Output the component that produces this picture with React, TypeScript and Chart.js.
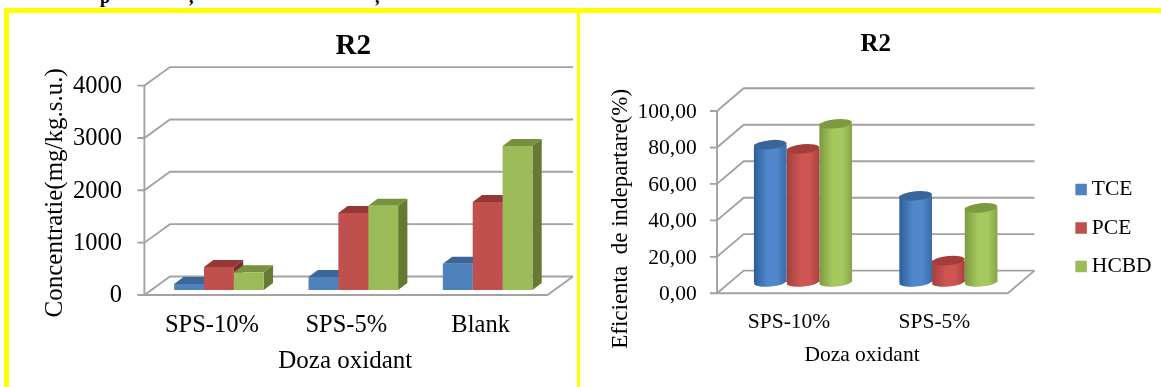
import React, { useEffect, useRef } from "react";
import { Chart, registerables } from "chart.js";

Chart.register(...registerables);

const SERIES = ["TCE", "PCE", "HCBD"];
const doseLeft = ["SPS-10%", "SPS-5%", "Blank"];
const tceConc = [115, 250, 500];
const pceConc = [440, 1470, 1680];
const hcbdConc = [340, 1610, 2750];

const doseRight = ["SPS-10%", "SPS-5%"];
const tceEff = [75.3, 47.3];
const pceEff = [73, 11.7];
const hcbdEff = [86.8, 40.7];

const FONT = "'Liberation Serif', 'Times New Roman', serif";
const GRID = "#A2A2A2";

const FRONT = ["#4F81BD", "#C0504D", "#9BBB59"];
const TOPS = ["#3B6697", "#953735", "#76923C"];
const SIDES = ["#2F5480", "#7A2E2C", "#667A33"];
const CYL_EDGE = ["#2E5E98", "#A03F3C", "#7C9A42"];
const CYL_MID = ["#5088CB", "#CF5552", "#A6C95E"];
const CYL_END = ["#3A6BA6", "#A8423F", "#86A548"];
const CYL_CAP = ["#3A6598", "#A33E3B", "#7C9A40"];

type Geo = { fx: number; fy: number; bx: number; by: number };

function wallsPlugin(g: Geo) {
  return {
    id: "walls",
    beforeDatasetsDraw(chart: any) {
      const { ctx, scales } = chart;
      const { x, y } = scales;
      const L = x.left;
      const R = x.right;
      ctx.save();
      ctx.strokeStyle = GRID;
      ctx.lineWidth = 1.9;
      const line = (pts: number[][]) => {
        ctx.beginPath();
        pts.forEach((p, i) => (i ? ctx.lineTo(p[0], p[1]) : ctx.moveTo(p[0], p[1])));
        ctx.stroke();
      };
      y.ticks.forEach((t: any) => {
        const py = y.getPixelForValue(t.value);
        line([
          [L + g.fx - 7, py + g.fy],
          [L + g.fx, py + g.fy],
          [L + g.bx, py + g.by],
          [R + g.bx, py + g.by],
        ]);
      });
      const y0 = y.getPixelForValue(y.min);
      const yT = y.getPixelForValue(y.max);
      line([
        [L + g.fx, yT + g.fy],
        [L + g.fx, y0 + g.fy],
        [R + g.fx, y0 + g.fy],
        [R + g.bx, y0 + g.by],
      ]);
      ctx.restore();
    },
  };
}

function boxPlugin(depthX: number, depthY: number) {
  return {
    id: "boxDepth",
    beforeDatasetsDraw(chart: any) {
      const { ctx } = chart;
      const n = chart.data.labels.length;
      ctx.save();
      for (let i = 0; i < n; i++) {
        for (let d = 0; d < 3; d++) {
          const el = chart.getDatasetMeta(d).data[i];
          const x0 = el.x - el.width / 2;
          const x1 = el.x + el.width / 2;
          ctx.fillStyle = TOPS[d];
          ctx.beginPath();
          ctx.moveTo(x0, el.y);
          ctx.lineTo(x1, el.y);
          ctx.lineTo(x1 + depthX, el.y - depthY);
          ctx.lineTo(x0 + depthX, el.y - depthY);
          ctx.closePath();
          ctx.fill();
          ctx.fillStyle = SIDES[d];
          ctx.beginPath();
          ctx.moveTo(x1, el.y);
          ctx.lineTo(x1 + depthX, el.y - depthY);
          ctx.lineTo(x1 + depthX, el.base - depthY);
          ctx.lineTo(x1, el.base);
          ctx.closePath();
          ctx.fill();
        }
      }
      ctx.restore();
    },
  };
}

function cylGradient(ctx: any, x0: number, x1: number, d: number) {
  const g = ctx.createLinearGradient(x0, 0, x1, 0);
  g.addColorStop(0, CYL_EDGE[d]);
  g.addColorStop(0.42, CYL_MID[d]);
  g.addColorStop(0.7, CYL_MID[d]);
  g.addColorStop(1, CYL_END[d]);
  return g;
}

const CAT_PCT = 0.675;

function cylFill(d: number) {
  return (c: any) => {
    const xs = c.chart.scales?.x;
    if (!xs || c.dataIndex === undefined || !c.chart.chartArea) return FRONT[d];
    const w = ((xs.width / c.chart.data.labels.length) * CAT_PCT) / 3;
    const cx = xs.getPixelForValue(c.dataIndex) + (d - 1) * w;
    return cylGradient(c.chart.ctx, cx - w / 2, cx + w / 2, d);
  };
}

const cylinderPlugin = {
  id: "cylinderCaps",
  afterDatasetsDraw(chart: any) {
    const { ctx } = chart;
    const n = chart.data.labels.length;
    const tilt = (-5.5 * Math.PI) / 180;
    const ry = 4.6;
    ctx.save();
    for (let i = 0; i < n; i++) {
      for (let d = 0; d < 3; d++) {
        const el = chart.getDatasetMeta(d).data[i];
        const rx = el.width / 2;
        ctx.fillStyle = cylGradient(ctx, el.x - rx, el.x + rx, d);
        ctx.beginPath();
        ctx.ellipse(el.x, el.base, rx, ry, tilt, 0, Math.PI * 2);
        ctx.fill();
        ctx.fillStyle = CYL_CAP[d];
        ctx.beginPath();
        ctx.ellipse(el.x, el.y, rx, ry, tilt, 0, Math.PI * 2);
        ctx.fill();
      }
    }
    ctx.restore();
  },
};

function shifted(target: any, key: string, dx: number, dy: number) {
  const orig = target[key];
  target[key] = function (...args: any[]) {
    const ctx = this.ctx;
    ctx.save();
    ctx.translate(dx, dy);
    orig.apply(this, args);
    ctx.restore();
  };
}

function nudgePlugin(xShift: number[], yShift: number[], legendWidth: number, legendShift: number[]) {
  let done = false;
  return {
    id: "nudge",
    beforeLayout(chart: any) {
      if (done) return;
      done = true;
      shifted(chart.scales.x, "drawTitle", xShift[0], xShift[1]);
      shifted(chart.scales.y, "drawTitle", yShift[0], yShift[1]);
      if (chart.legend && legendWidth) {
        const fit = chart.legend.fit;
        chart.legend.fit = function () {
          fit.call(this);
          this.width = legendWidth;
        };
        shifted(chart.legend, "draw", legendShift[0], legendShift[1]);
      }
    },
  };
}

type Spec = {
  labels: string[];
  values: number[][];
  max: number;
  step: number;
  fmt: (v: number) => string;
  fontSize: number;
  titleSize: number;
  xTitleSize: number;
  yTitleSize: number;
  yTitle: string;
  titlePad: { top: number; bottom: number };
  yWidth: number;
  xHeight: number;
  padRight: number;
  yTickPad: number;
  yLabelOffset: number;
  xTickPad: number;
  xLabelOffset: number;
  xTitlePad: number;
  yTitlePad: number;
  cat: number;
  fills: any[];
  plugins: any[];
  legend: boolean;
};

function build(canvas: HTMLCanvasElement, s: Spec) {
  const font = (size: number, weight: any = "normal") => ({ family: FONT, size, weight, lineHeight: 1.2 });
  return new Chart(canvas, {
    type: "bar",
    data: {
      labels: s.labels,
      datasets: SERIES.map((name, d) => ({
        label: name,
        data: s.values[d],
        backgroundColor: s.fills[d],
        borderWidth: 0,
        categoryPercentage: s.cat,
        barPercentage: 1,
      })),
    },
    plugins: s.plugins,
    options: {
      animation: false,
      responsive: false,
      maintainAspectRatio: false,
      layout: { padding: { left: 0, top: 0, bottom: 0, right: s.padRight } },
      plugins: {
        tooltip: { enabled: false },
        title: {
          display: true,
          text: "R2",
          color: "#000",
          fullSize: false,
          font: font(s.titleSize, "bold"),
          padding: s.titlePad,
        },
        legend: {
          display: s.legend,
          position: "right",
          labels: {
            color: "#000",
            font: font(s.fontSize),
            usePointStyle: true,
            boxWidth: 0.01,
            boxHeight: 11.5,
            padding: 17,
            generateLabels: () =>
              SERIES.map((name, d) => ({
                text: name,
                fillStyle: FRONT[d],
                strokeStyle: FRONT[d],
                lineWidth: 0,
                pointStyle: "rect",
                fontColor: "#000",
                datasetIndex: d,
              })),
          },
        },
      },
      scales: {
        x: {
          grid: { display: false, drawTicks: false },
          border: { display: false },
          afterFit: (sc: any) => {
            sc.height = s.xHeight;
          },
          ticks: {
            color: "#000",
            font: font(s.fontSize),
            maxRotation: 0,
            minRotation: 0,
            autoSkip: false,
            padding: s.xTickPad,
            labelOffset: s.xLabelOffset,
          },
          title: {
            display: true,
            text: "Doza oxidant",
            color: "#000",
            font: font(s.xTitleSize),
            padding: { top: 0, bottom: s.xTitlePad },
          },
        },
        y: {
          min: 0,
          max: s.max,
          grid: { display: false, drawTicks: false },
          border: { display: false },
          afterFit: (sc: any) => {
            sc.width = s.yWidth;
          },
          ticks: {
            stepSize: s.step,
            color: "#000",
            font: font(s.fontSize),
            padding: s.yTickPad,
            labelOffset: s.yLabelOffset,
            callback: (v: any) => s.fmt(Number(v)),
          },
          title: {
            display: true,
            text: s.yTitle,
            color: "#000",
            font: font(s.yTitleSize),
            padding: { top: s.yTitlePad, bottom: 0 },
          },
        },
      },
    },
  } as any);
}

const yellow = "#FFFF00";
const bar = (left: number, top: number, width: number, height: number): React.CSSProperties => ({
  position: "absolute",
  left,
  top,
  width,
  height,
  background: yellow,
});
const canvasStyle = (left: number, top: number): React.CSSProperties => ({
  position: "absolute",
  left,
  top,
  filter: "blur(0.55px)",
});
const scrap = (left: number): React.CSSProperties => ({
  position: "absolute",
  left,
  top: -13,
  font: "bold 18px 'Liberation Serif', serif",
  color: "#000",
});

export default function App() {
  const leftRef = useRef<HTMLCanvasElement>(null);
  const rightRef = useRef<HTMLCanvasElement>(null);

  useEffect(() => {
    const left = build(leftRef.current!, {
      labels: doseLeft,
      values: [tceConc, pceConc, hcbdConc],
      max: 4000,
      step: 1000,
      fmt: (v) => String(v),
      fontSize: 24.5,
      titleSize: 29,
      xTitleSize: 25,
      yTitleSize: 25,
      yTitle: "Concentratie(mg/kg.s.u.)",
      titlePad: { top: 15, bottom: 16.8 },
      yWidth: 142.8,
      xHeight: 97,
      padRight: 21.2,
      yTickPad: 29.8,
      yLabelOffset: 6,
      xTickPad: 21,
      xLabelOffset: -7,
      xTitlePad: 11,
      yTitlePad: 31.5,
      cat: 0.667,
      fills: FRONT,
      legend: false,
      plugins: [
        wallsPlugin({ fx: -7.4, fy: 5, bx: 18.2, by: -13.5 }),
        boxPlugin(9.3, 7),
        nudgePlugin([-8, 0], [0, 7.5], 0, [0, 0]),
      ],
    });
    const right = build(rightRef.current!, {
      labels: doseRight,
      values: [tceEff, pceEff, hcbdEff],
      max: 100,
      step: 20,
      fmt: (v) => v.toFixed(2).replace(".", ","),
      fontSize: 21.5,
      titleSize: 25,
      xTitleSize: 21.5,
      yTitleSize: 23,
      yTitle: "Eficienta  de indepartare(%)",
      titlePad: { top: 15.5, bottom: 40.2 },
      yWidth: 150.3,
      xHeight: 105,
      padRight: 39.9,
      yTickPad: 33.6,
      yLabelOffset: 12.5,
      xTickPad: 27.2,
      xLabelOffset: -14,
      xTitlePad: 18.4,
      yTitlePad: 26.9,
      cat: CAT_PCT,
      fills: [cylFill(0), cylFill(1), cylFill(2)],
      legend: true,
      plugins: [
        wallsPlugin({ fx: -13.3, fy: 11.3, bx: 13.4, by: -11.4 }),
        cylinderPlugin,
        nudgePlugin([-13.7, 0], [0, 28], 100, [43, 27.5]),
      ],
    });
    return () => {
      left.destroy();
      right.destroy();
    };
  }, []);

  return (
    <div style={{ position: "absolute", left: 0, top: 0, width: 1161, height: 387, background: "#fff", overflow: "hidden" }}>
      <div style={{ position: "absolute", left: 0, top: 0, width: 1161, height: 8, overflow: "hidden" }}>
        <span style={scrap(100)}>p</span>
        <span style={scrap(189)}>,</span>
        <span style={scrap(375)}>,</span>
      </div>
      <canvas ref={leftRef} width={567} height={373} style={canvasStyle(9, 14)} />
      <canvas ref={rightRef} width={581} height={373} style={canvasStyle(580, 14)} />
      <div style={bar(4, 8, 1157, 5)} />
      <div style={bar(4, 8, 5, 379)} />
      <div style={bar(576.5, 8, 3.5, 379)} />
    </div>
  );
}
